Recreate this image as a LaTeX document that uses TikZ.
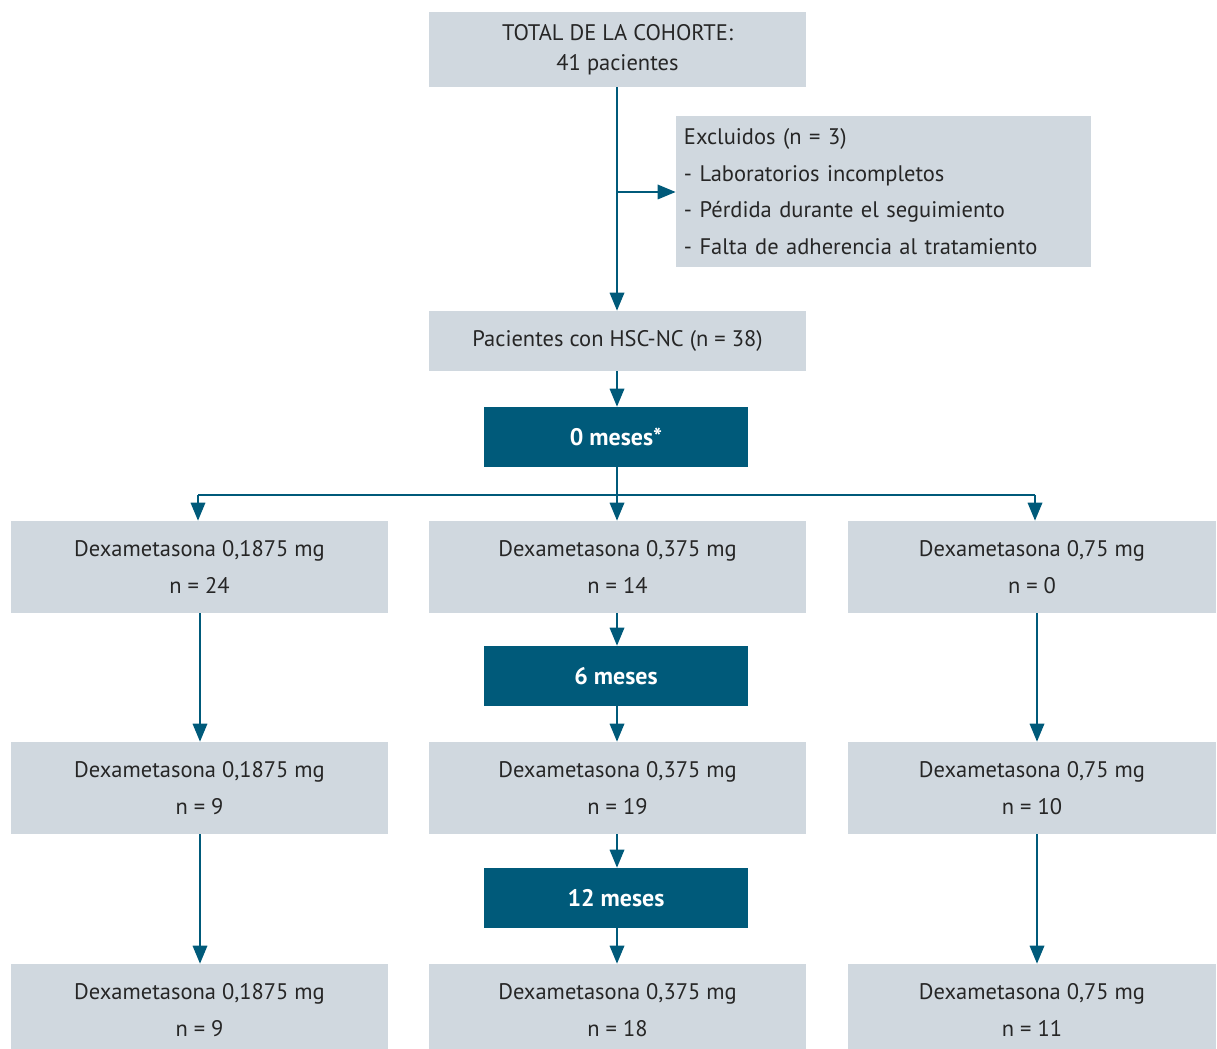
\documentclass[tikz,border=0pt]{standalone}
\usepackage{fontspec}
\setmainfont{PT Sans}
\usetikzlibrary{arrows.meta}
\definecolor{teal1}{HTML}{005A7A}
\definecolor{grey1}{HTML}{D0D8DF}
\tikzset{
  gbox/.style={fill=grey1, inner sep=0pt, align=center, text=black!85,
    font=\fontsize{16}{26}\selectfont},
  tbox/.style={fill=teal1, inner sep=0pt, align=center, text=white,
    font=\fontsize{17}{26}\selectfont\bfseries, minimum width=6.6cm, minimum height=1.5cm},
  arr/.style={draw=teal1, line width=1.5pt, -{Triangle[length=0.45cm,width=0.36cm]}},
  ln/.style={draw=teal1, line width=1.5pt}
}
\begin{document}
\begin{tikzpicture}[x=0.025cm, y=-0.025cm]
\useasboundingbox (0,0) rectangle (1217,1049);

\node[gbox, font=\fontsize{16}{21.5}\selectfont, minimum width=9.425cm, minimum height=1.875cm] (total) at (617.5,49.5){TOTAL DE LA COHORTE:\\41 pacientes};
\node[gbox, minimum width=10.375cm, minimum height=3.775cm, align=left, text width=9.975cm, inner xsep=0.2cm] (excl) at (883.5,191.5)
  {Excluidos (n = 3)\\- Laboratorios incompletos\\- Pérdida durante el seguimiento\\- Falta de adherencia al tratamiento};
\node[gbox, minimum width=9.425cm, minimum height=1.5cm] (hsc) at (617.5,341){Pacientes con HSC-NC (n = 38)};

\node[tbox] (m0) at (616,437){0 meses*};
\node[tbox] (m6) at (616,676){6 meses};
\node[tbox] (m12) at (616,898){12 meses};

% filas de dosis
\node[gbox, minimum width=9.425cm, minimum height=2.3cm] (l1) at (199.5,567){Dexametasona 0,1875 mg\\n = 24};
\node[gbox, minimum width=9.425cm, minimum height=2.3cm] (c1) at (617.5,567){Dexametasona 0,375 mg\\n = 14};
\node[gbox, minimum width=9.2cm, minimum height=2.3cm] (r1) at (1032,567){Dexametasona 0,75 mg\\n = 0};

\node[gbox, minimum width=9.425cm, minimum height=2.3cm] (l2) at (199.5,788){Dexametasona 0,1875 mg\\n = 9};
\node[gbox, minimum width=9.425cm, minimum height=2.3cm] (c2) at (617.5,788){Dexametasona 0,375 mg\\n = 19};
\node[gbox, minimum width=9.2cm, minimum height=2.3cm] (r2) at (1032,788){Dexametasona 0,75 mg\\n = 10};

\node[gbox, minimum width=9.425cm, minimum height=2.3cm] (l3) at (199.5,1010){Dexametasona 0,1875 mg\\n = 9};
\node[gbox, minimum width=9.425cm, minimum height=2.3cm] (c3) at (617.5,1010){Dexametasona 0,375 mg\\n = 18};
\node[gbox, minimum width=9.2cm, minimum height=2.3cm] (r3) at (1032,1010){Dexametasona 0,75 mg\\n = 11};

\coordinate (sp) at (617,192);
\coordinate (br) at (617,495);

\draw[arr] (total.south -| sp) -- (hsc.north -| sp);
\draw[arr] (sp) -- (excl.west |- sp);
\draw[arr] (hsc.south -| sp) -- (m0.north -| sp);
\draw[ln] (m0.south -| sp) -- (br);
\draw[ln] (br -| 198,0) -- (br -| 1035,0);
\draw[arr] (br -| 198,0) -- (l1.north -| 198,0);
\draw[arr] (br) -- (c1.north -| br);
\draw[arr] (br -| 1035,0) -- (r1.north -| 1035,0);

\draw[arr] (c1.south -| sp) -- (m6.north -| sp);
\draw[arr] (m6.south -| sp) -- (c2.north -| sp);
\draw[arr] (c2.south -| sp) -- (m12.north -| sp);
\draw[arr] (m12.south -| sp) -- (c3.north -| sp);

\draw[arr] (l1.south -| 200,0) -- (l2.north -| 200,0);
\draw[arr] (l2.south -| 200,0) -- (l3.north -| 200,0);
\draw[arr] (r1.south -| 1037,0) -- (r2.north -| 1037,0);
\draw[arr] (r2.south -| 1037,0) -- (r3.north -| 1037,0);
\end{tikzpicture}
\end{document}
